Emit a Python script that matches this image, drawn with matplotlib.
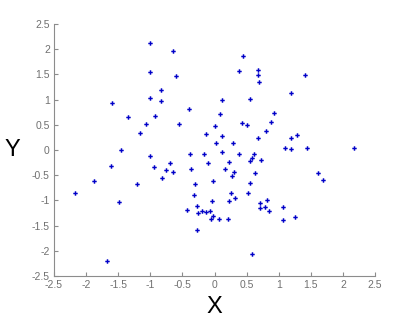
import matplotlib
matplotlib.use("Agg")
import matplotlib.pyplot as plt
import numpy as np

# scatter points
x_vals = [
    -1.00, -0.65, -1.01, -0.60, -0.83, -1.01, -0.84, -1.60, -0.40, -1.34,
    -0.93, -1.06, -0.56, -1.16, -1.45, -1.01, -0.38,
    0.44, 0.38, 0.67, 0.67, 0.70, 1.41, 1.19, 0.12, 0.56, 0.09,
    0.93, 0.00, 0.43, 0.51, 0.88, 0.80, -0.14, 0.12, 0.68, 1.19,
    1.28, 0.03, 0.29, 1.10, 1.19, 1.44, 2.18, -0.16, 0.11, 0.38,
    0.61, 0.58, 0.72,
    -2.17, -1.87, -1.61, -1.48, -1.21, -0.95, -0.81, -0.75, -0.70, -0.64,
    -0.36, -0.30, -0.32, -0.43, -0.28, -0.25, -0.27, -1.67,
    0.56, -0.10, 0.22, 0.17, 0.31, 0.28, 0.63, -0.02, 0.56, 0.25,
    0.52, 0.32, -0.04, 0.23, 0.71, 0.81, 0.71, 0.78, 0.85, -0.19,
    -0.14, -0.07, -0.02, -0.05, 0.07, 0.21, 0.58,
    1.61, 1.69, 1.06, 1.07, 1.25,
]
y_vals = [
    2.12, 1.96, 1.55, 1.47, 1.20, 1.04, 0.97, 0.93, 0.82, 0.65,
    0.67, 0.51, 0.51, 0.33, 0.01, -0.12, -0.08,
    1.87, 1.57, 1.59, 1.49, 1.34, 1.49, 1.14, 0.99, 1.02, 0.71,
    0.73, 0.48, 0.54, 0.49, 0.55, 0.38, 0.32, 0.28, 0.23, 0.24,
    0.29, 0.14, 0.13, 0.04, 0.03, 0.05, 0.05, -0.07, -0.03, -0.08,
    -0.07, -0.15, -0.19,
    -0.86, -0.62, -0.32, -1.03, -0.68, -0.34, -0.55, -0.39, -0.26, -0.43,
    -0.37, -0.68, -0.90, -1.19, -1.12, -1.24, -1.59, -2.21,
    -0.21, -0.25, -0.24, -0.37, -0.43, -0.52, -0.46, -0.61, -0.65, -0.85,
    -0.85, -0.95, -1.01, -1.02, -1.06, -0.99, -1.16, -1.14, -1.21, -1.20,
    -1.22, -1.21, -1.30, -1.36, -1.36, -1.36, -2.06,
    -0.46, -0.60, -1.14, -1.39, -1.33,
]

ticks = [-2.5, -2, -1.5, -1, -0.5, 0, 0.5, 1, 1.5, 2, 2.5]
tick_labels = ["-2.5", "-2", "-1.5", "-1", "-0.5", "0", "0.5", "1", "1.5", "2", "2.5"]

plt.rcParams['font.family'] = ['Liberation Sans', 'DejaVu Sans']

fig = plt.figure(figsize=(4.0, 3.29), dpi=100)
ax = fig.add_axes([0.135, 0.161, 0.8025, 0.766])

ax.plot(x_vals, y_vals, linestyle='none', marker='P', markersize=3.2,
        color='#0000c8', markeredgewidth=0)

ax.set_xlim(-2.5, 2.5)
ax.set_ylim(-2.5, 2.5)
ax.set_xticks(ticks)
ax.set_xticklabels(tick_labels)
ax.set_yticks(ticks)
ax.set_yticklabels(tick_labels)

grey = '#8c8c8c'
for side in ('top', 'right'):
    ax.spines[side].set_visible(False)
for side in ('left', 'bottom'):
    ax.spines[side].set_color(grey)
    ax.spines[side].set_linewidth(0.8)
ax.tick_params(direction='in', length=3, width=0.8, color=grey,
               labelcolor='#707070', labelsize=7.5, pad=3)

ax.set_xlabel("X", fontsize=17, labelpad=4)
ax.set_ylabel("Y", fontsize=17, rotation=0, labelpad=14, va='center')

fig.savefig("out.png", dpi=100)
